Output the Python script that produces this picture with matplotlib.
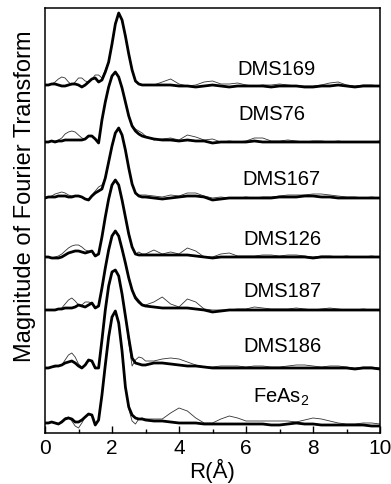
import numpy as np
import matplotlib
matplotlib.use('Agg')
import matplotlib.pyplot as plt

plt.rcParams['font.family'] = ['Liberation Sans', 'DejaVu Sans']

# R grid (Angstrom): 0.1 steps up to 3.0, then 0.25 steps
r = [0.0, 0.1, 0.2, 0.3, 0.4, 0.5, 0.6, 0.7, 0.8, 0.9,
     1.0, 1.1, 1.2, 1.3, 1.4, 1.5, 1.6, 1.7, 1.8, 1.9,
     2.0, 2.1, 2.2, 2.3, 2.4, 2.5, 2.6, 2.7, 2.8, 2.9, 3.0,
     3.25, 3.5, 3.75, 4.0, 4.25, 4.5, 4.75, 5.0, 5.25, 5.5, 5.75, 6.0,
     6.25, 6.5, 6.75, 7.0, 7.25, 7.5, 7.75, 8.0, 8.25, 8.5, 8.75, 9.0,
     9.25, 9.5, 9.75, 10.0]

# magnitudes (arbitrary units, above each baseline)
dms169_fit = [1, 1, 2, 2, 1, 0, 0, 1, 2, 2, 1, -1, 1, 4, 7, 8, 4, 6, 14, 24,
              42, 62, 73, 66, 50, 32, 16, 5, 2, 1, 1,
              1, 1, 1, 0, 0, -1, 0, 1, 0, -1, 0, 0, 0, 0, -1, 0, 0, 0, -1, -1,
              0, 0, 1, 0, -1, 0, 0, 0]
dms169_data = [1, 1, 2, 4, 7, 9, 8, 4, 1, 4, 8, 8, 5, 4, 7, 11, 11, 8, 16, 24,
               42, 62, 73, 66, 50, 32, 16, 5, 2, 1, 1,
               1, 4, 7, 2, 0, 1, 4, 5, 2, 2, 3, 1, 0, 1, 1, 2, 1, 0, 0, 0,
               1, 3, 4, 1, 0, 1, 1, 0]

dms76_fit = [0, 0, 1, 0, 1, 1, 2, 2, 2, 2, 2, 2, 3, 6, 6, 3, -1, 22, 40, 55,
             66, 70, 65, 54, 40, 26, 16, 11, 8, 6, 5,
             3, 2, 2, 1, 2, 1, 1, -1, 0, 0, 0, 0, 1, 0, 0, 0, 0, 0, 0, 0,
             0, 0, 0, 0, 0, 0, 0, 0]
dms76_data = [0, 0, 1, 1, 2, 4, 8, 10, 11, 10, 7, 4, 3, 6, 6, 3, -1, 22, 40, 55,
              66, 70, 65, 54, 40, 26, 17, 13, 11, 9, 6,
              2, 3, 4, 2, 7, 5, 2, 3, 0, 1, 0, 1, 4, 4, 1, 1, 2, 1, 0, 1,
              1, 0, 1, 0, 0, 0, 0, 1]

dms167_fit = [0, 1, 1, 1, 2, 2, 2, 1, 1, 2, 2, 1, -1, -2, 2, 5, 7, 9, 20, 36,
              52, 65, 70, 63, 48, 30, 14, 5, 2, 1, 1,
              0, -1, 0, 1, 2, 2, 1, -2, -1, 0, 0, 0, 0, 0, 0, 1, 1, 1, 2, 2,
              1, 1, 0, 0, 0, 0, 0, 0]
dms167_data = [0, 1, 2, 4, 5, 6, 5, 3, 2, 2, 2, 1, -1, -1, 3, 7, 11, 13, 20, 36,
               52, 65, 70, 63, 48, 30, 14, 5, 3, 3, 3,
               2, 1, 3, 2, 5, 5, 2, 0, 1, 0, 0, 1, 0, 1, 1, 2, 3, 3, 3, 4,
               4, 3, 2, 1, 1, 0, 1, 0]

dms126_fit = [0, 0, -1, -1, -1, 0, 2, 4, 5, 6, 6, 5, 4, 5, 6, 1, 3, 20, 40, 58,
              72, 77, 72, 57, 40, 23, 10, 3, 2, 2, 2,
              2, 2, 2, 2, 2, 1, 0, -1, 0, 0, 0, 0, 0, 0, 0, 0, 0, 0, 0, -1,
              0, 0, 0, 0, 0, 0, 0, 0]
dms126_data = [0, 0, -1, 0, 1, 3, 6, 9, 11, 12, 12, 10, 7, 6, 6, 1, 3, 20, 40, 58,
               72, 77, 72, 57, 40, 23, 10, 3, 5, 3, 3,
               7, 3, 5, 3, 9, 6, 0, 0, 3, 4, 1, 1, 1, 2, 2, 1, 2, 2, 1, 0,
               1, 1, 0, 1, 0, 0, 1, 0]

dms187_fit = [0, 0, 0, 0, 1, 1, 2, 2, 2, 3, 5, 4, 3, 5, 7, 2, 4, 22, 42, 60,
              74, 79, 74, 61, 47, 32, 20, 12, 8, 5, 4,
              3, 2, 2, 2, 2, 1, 0, -2, -1, 0, 0, 0, 0, 0, 0, 0, 0, 0, 0, 0,
              0, 0, 0, 0, 0, 0, 0, 0]
dms187_data = [0, 0, 0, 0, 1, 2, 6, 10, 12, 9, 5, 5, 8, 8, 7, 2, 4, 22, 42, 60,
               74, 79, 74, 61, 47, 32, 20, 14, 10, 6, 5,
               8, 13, 6, 3, 11, 8, 1, 0, 0, 0, 1, 1, 3, 2, 1, 1, 1, 2, 1, 0,
               1, 2, 1, 0, 0, 1, 0, 0]

dms186_fit = [0, 0, 1, 2, 2, 3, 5, 6, 7, 5, 2, 0, 3, 8, 7, 0, 0, 28, 58, 82,
              96, 98, 92, 74, 52, 30, 10, 5, 4, 3, 3,
              5, 5, 4, 3, 2, 2, 1, 0, 0, 0, 0, 0, 0, 0, 0, 0, 0, 0, 0, 0,
              0, 0, 0, 0, -1, 0, 0, -1]
dms186_data = [0, 0, 1, 1, 2, 3, 8, 13, 15, 11, 4, 1, 3, 8, 7, 0, 0, 28, 58, 82,
               96, 98, 92, 74, 52, 25, 2, 8, 11, 10, 7,
               7, 9, 10, 9, 6, 3, 1, 1, 2, 2, 2, 1, 2, 2, 1, 1, 2, 3, 3, 2,
               1, 2, 2, 1, 0, 1, 1, 0]

feas2_fit = [0, 0, 1, 0, -1, 1, 4, 5, 4, 1, 1, 3, 6, 9, 8, -2, 3, 28, 58, 86,
             106, 112, 100, 72, 36, 16, 8, 5, 4, 4, 3,
             2, 2, 1, 0, 0, 0, -1, -1, -1, -1, -1, -1, -1, -1, -2, -2, -1, 0, -1, -1,
             -2, -2, -2, -2, -2, -2, -3, -3]
feas2_data = [0, 0, 1, 0, -1, 2, 5, 6, 2, -3, -5, 0, 6, 9, 8, -2, 3, 28, 58, 86,
              106, 112, 100, 72, 36, 14, 2, -1, 4, 5, 4,
              4, 4, 10, 15, 12, 5, 0, 0, 4, 7, 5, 2, 2, 2, 2, 2, 2, 1, 3, 5,
              4, 2, 0, -1, -1, 0, 0, -1]

labels = ['DMS169', 'DMS76', 'DMS167', 'DMS126', 'DMS187', 'DMS186',
          'FeAs$_{\\mathregular{2}}$']

fig = plt.figure(figsize=(3.91, 4.84), dpi=100)
ax = fig.add_axes([45 / 391, 51 / 484, 335 / 391, 425 / 484])

# (data, fit, baseline offset, label x, label baseline y)
stack = [
    (dms169_data, dms169_fit, 347, 5.73, 358),
    (dms76_data, dms76_fit, 291, 5.76, 313),
    (dms167_data, dms167_fit, 235, 5.88, 248),
    (dms126_data, dms126_fit, 176, 5.91, 188),
    (dms187_data, dms187_fit, 123, 5.91, 136),
    (dms186_data, dms186_fit, 65, 5.91, 81),
    (feas2_data, feas2_fit, 10, 6.21, 30),
]

for (data, fit, base, tx, ty), name in zip(stack, labels):
    ax.plot(r, np.array(data) + base, color='#333333', lw=0.6)
    ax.plot(r, np.array(fit) + base, color='black', lw=2.0)
    ax.text(tx, ty, name, fontsize=14.5, ha='left', va='baseline')

ax.set_xlim(0, 10)
ax.set_ylim(0, 425)
ax.set_xticks([0, 2, 4, 6, 8, 10])
ax.set_xticks([1, 3, 5, 7, 9], minor=True)
ax.set_yticks([])
ax.tick_params(axis='x', which='major', direction='in', length=5, width=1,
               labelsize=15, pad=4)
ax.tick_params(axis='x', which='minor', direction='in', length=3, width=1)
for s in ax.spines.values():
    s.set_linewidth(1.1)

ax.set_xlabel('R(Å)', fontsize=16, labelpad=1)
fig.text(25 / 391, 1 - 196 / 484, 'Magnitude of Fourier Transform',
         rotation=90, ha='center', va='center', fontsize=17)

fig.savefig('out.png', dpi=100)
